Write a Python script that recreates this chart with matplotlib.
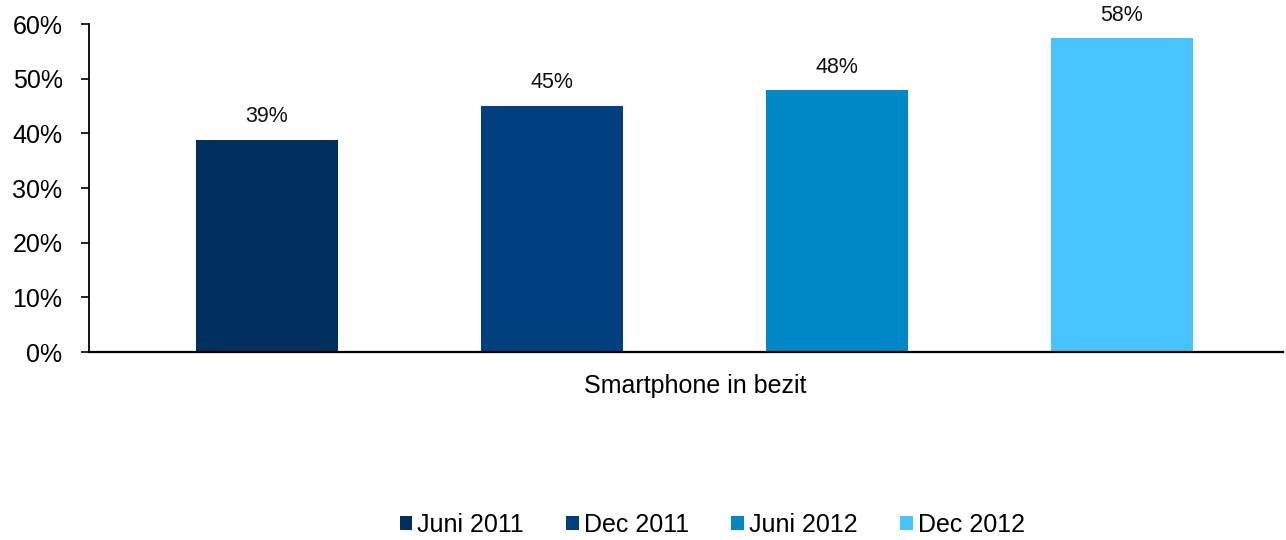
import matplotlib
matplotlib.use("Agg")
import matplotlib.pyplot as plt
from matplotlib.ticker import FuncFormatter

series = ["Juni 2011", "Dec 2011", "Juni 2012", "Dec 2012"]
values = [38.8, 45.0, 47.9, 57.4]
labels = ["39%", "45%", "48%", "58%"]
category = "Smartphone in bezit"
colors = ["#00305E", "#00407F", "#0088C6", "#47C3FF"]

plt.rcParams['font.family'] = ['Liberation Sans', 'DejaVu Sans']

fig = plt.figure(figsize=(12.86, 5.40), dpi=100)
ax = fig.add_axes([89/1286, 1-352/540, (1283-89)/1286, (352-24)/540])

for i, (s, v, c) in enumerate(zip(series, values, colors)):
    ax.bar(i, v, width=0.5, color=c, label=s, zorder=2)
    ax.annotate(labels[i], (i, v), xytext=(0, 9), textcoords="offset points",
                ha="center", va="bottom", fontsize=15.5, color="#111111")

ax.set_xlim(-0.625, 3.565)
ax.set_ylim(0, 60)
ax.set_yticks([0, 10, 20, 30, 40, 50, 60])
ax.yaxis.set_major_formatter(FuncFormatter(lambda v, p: f"{int(v)}%"))
ax.tick_params(axis='y', labelsize=18, length=6, width=1.2, pad=13, direction='out')
ax.set_xticks([])
for sp in ["top", "right"]:
    ax.spines[sp].set_visible(False)
ax.spines["left"].set_linewidth(1.3)
ax.spines["bottom"].set_linewidth(1.6)

ax.text((695-89)/1194, -0.104, category, transform=ax.transAxes,
        ha="center", va="center", fontsize=18)

fig.legend(loc="center", bbox_to_anchor=(712/1286, 1-525/540), ncol=4,
           frameon=False, fontsize=18, handlelength=0.5, handleheight=0.5,
           handletextpad=0.2, columnspacing=1.7)

fig.savefig("out.png", dpi=100)
